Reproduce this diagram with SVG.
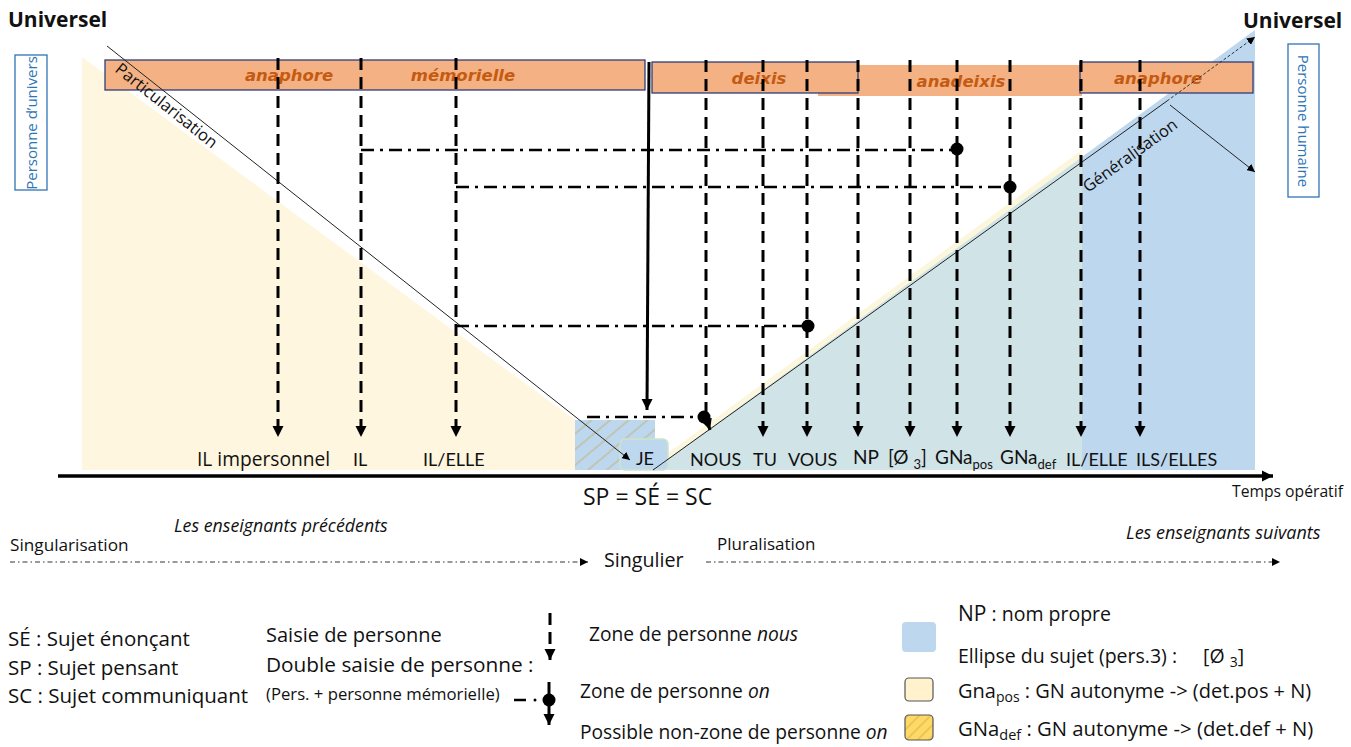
<svg xmlns="http://www.w3.org/2000/svg" width="1351" height="747" viewBox="0 0 1351 747">
<style>
.t{font-family:Lato,"Liberation Sans",sans-serif;fill:#111}
.o{font-family:"Open Sans","Liberation Sans",sans-serif;fill:#111}
.lab{font-size:18px}
.bar{fill:#f4b183;stroke:#2f3d7a;stroke-width:1.3}
.bt{font-family:"DejaVu Sans",Verdana,sans-serif;font-weight:bold;font-style:italic;font-size:16.5px;fill:#c55a11}
.vd{stroke:#000;stroke-width:3;stroke-dasharray:12 7;fill:none}
.dd{stroke:#000;stroke-width:2.5;stroke-dasharray:13 6 3 6;fill:none}
.thin{stroke:#222;stroke-width:1;fill:none}
.dot{fill:#000}
.vbox{fill:#fff;stroke:#2e75b6;stroke-width:1.3}
.vt{font-family:"Open Sans","Liberation Sans",sans-serif;font-size:15px;fill:#2e75b6}
</style>
<defs>
<marker id="ah" viewBox="0 0 10 10" refX="10" refY="5" markerWidth="11" markerHeight="12" markerUnits="userSpaceOnUse" orient="auto"><path d="M0,0 L10,5 L0,10 z" fill="#000"/></marker>
<marker id="ahs" viewBox="0 0 10 10" refX="10" refY="5" markerWidth="8" markerHeight="8" markerUnits="userSpaceOnUse" orient="auto"><path d="M0,0 L10,5 L0,10 z" fill="#000"/></marker>
<pattern id="hatch" width="12" height="12" patternUnits="userSpaceOnUse" patternTransform="rotate(-40)">
<rect width="12" height="12" fill="#bdd7ee"/><line x1="0" y1="6" x2="12" y2="6" stroke="#c2b47a" stroke-width="1"/>
</pattern>
<pattern id="hatchY" width="8" height="8" patternUnits="userSpaceOnUse" patternTransform="rotate(-45)">
<rect width="8" height="8" fill="#ffd966"/><line x1="0" y1="4" x2="8" y2="4" stroke="#c9a640" stroke-width="0.8"/>
</pattern>
</defs>
<rect width="1351" height="747" fill="#fff"/>

<g id="zones">
<polygon points="82,57 575,420 575,470 82,470" fill="#fef6df"/>
<polygon points="645,470 1082,150 1082,470" fill="#fbf6dc"/>
<polygon points="653,470 1082,157 1082,470" fill="#d0e3e6"/>
<polygon points="1082,157 1255,30 1255,470 1082,470" fill="#bdd7ee"/>
<rect x="575" y="420" width="80" height="50" fill="url(#hatch)"/>
</g>

<g id="bar-anaphore-memorielle">
<rect class="bar" x="105" y="60" width="540" height="30"/>
<text class="bt" x="289" y="81" text-anchor="middle">anaphore</text>
<text class="bt" x="463" y="81" text-anchor="middle">mémorielle</text>
</g>
<g id="bar-anadeixis">
<rect x="818" y="65" width="264" height="31" fill="#f4b183"/>
<text class="bt" x="961" y="87" text-anchor="middle">anadeixis</text>
</g>
<g id="bar-deixis">
<rect class="bar" x="652" y="62" width="206" height="31"/>
<text class="bt" x="759" y="84" text-anchor="middle">deixis</text>
</g>
<g id="bar-anaphore-2">
<rect class="bar" x="1080" y="62" width="173" height="31"/>
<text class="bt" x="1158" y="84" text-anchor="middle">anaphore</text>
</g>

<g id="je">
<rect x="620" y="439" width="48" height="31" rx="5" fill="#bdd7ee" stroke="#cfe3c8" stroke-width="1.5"/>
<text class="t lab" x="636" y="465">JE</text>
</g>

<g id="connectors">
<line class="thin" x1="107" y1="46" x2="630" y2="460" marker-end="url(#ahs)"/>
<line class="thin" x1="653" y1="470" x2="1167" y2="101" stroke="#333"/>
<line x1="1167" y1="101" x2="1255" y2="37" stroke="#333" stroke-width="1" stroke-dasharray="3 2" marker-end="url(#ahs)"/>
<line class="thin" x1="1170" y1="105" x2="1255" y2="172" marker-end="url(#ahs)"/>

<line class="vd" x1="278" y1="58" x2="278" y2="437" marker-end="url(#ah)"/>
<line class="vd" x1="361" y1="58" x2="361" y2="437" marker-end="url(#ah)"/>
<line class="vd" x1="456" y1="58" x2="456" y2="437" marker-end="url(#ah)"/>
<line x1="649" y1="62" x2="647" y2="410" stroke="#000" stroke-width="3" marker-end="url(#ah)"/>
<line class="vd" x1="706" y1="60" x2="706" y2="418"/>
<line x1="706" y1="418" x2="710" y2="430" stroke="#000" stroke-width="3" marker-end="url(#ah)"/>
<line class="vd" x1="763" y1="60" x2="763" y2="437" marker-end="url(#ah)"/>
<line class="vd" x1="807" y1="60" x2="807" y2="437" marker-end="url(#ah)"/>
<line class="vd" x1="858" y1="60" x2="858" y2="437" marker-end="url(#ah)"/>
<line class="vd" x1="910" y1="60" x2="910" y2="437" marker-end="url(#ah)"/>
<line class="vd" x1="957" y1="60" x2="957" y2="437" marker-end="url(#ah)"/>
<line class="vd" x1="1010" y1="60" x2="1010" y2="437" marker-end="url(#ah)"/>
<line class="vd" x1="1081" y1="60" x2="1081" y2="437" marker-end="url(#ah)"/>
<line class="vd" x1="1140" y1="60" x2="1140" y2="437" marker-end="url(#ah)"/>

<line class="dd" x1="361" y1="150" x2="957" y2="150"/>
<line class="dd" x1="456" y1="187" x2="1010" y2="187"/>
<line class="dd" x1="456" y1="326" x2="807" y2="326"/>
<line class="dd" x1="587" y1="417" x2="704" y2="417"/>
<circle class="dot" cx="957" cy="149" r="6.5"/>
<circle class="dot" cx="1010" cy="187" r="6.5"/>
<circle class="dot" cx="808" cy="326" r="6.5"/>
<circle class="dot" cx="704" cy="417" r="6.5"/>

<line x1="58" y1="476" x2="1273" y2="476" stroke="#000" stroke-width="3.5" marker-end="url(#ah)"/>
<line x1="10" y1="562" x2="588" y2="562" stroke="#333" stroke-width="1" stroke-dasharray="5 3 1.5 3" marker-end="url(#ahs)"/>
<line x1="706" y1="562" x2="1280" y2="562" stroke="#333" stroke-width="1" stroke-dasharray="5 3 1.5 3" marker-end="url(#ahs)"/>
</g>

<g id="particularisation"><text class="o" font-size="16.5" transform="translate(114,71) rotate(38.5)">Particularisation</text></g>
<g id="generalisation"><text class="o" font-size="16.5" transform="translate(1088,193) rotate(-36)">Généralisation</text></g>

<g id="universel-left"><text class="o" x="8" y="27" font-size="21" font-weight="bold">Universel</text></g>
<g id="universel-right"><text class="o" x="1243" y="28" font-size="21" font-weight="bold">Universel</text></g>
<g id="personne-univers">
<rect class="vbox" x="15" y="55" width="32" height="135"/>
<text class="vt" transform="translate(36.5,123) rotate(-90)" text-anchor="middle">Personne d’univers</text>
</g>
<g id="personne-humaine">
<rect class="vbox" x="1288" y="44" width="31" height="153"/>
<text class="vt" transform="translate(1297.5,121) rotate(90)" text-anchor="middle">Personne humaine</text>
</g>

<g id="labels" class="t lab">
<text class="o" x="197" y="466" font-size="19.2">IL impersonnel</text>
<text x="353" y="466">IL</text>
<text x="423" y="466">IL/ELLE</text>
<text x="690" y="466">NOUS</text>
<text x="753" y="466">TU</text>
<text x="788" y="466">VOUS</text>
<text x="853" y="464" font-size="19">NP</text>
<text x="888" y="464" font-size="19">[Ø <tspan font-size="13" dy="5">3</tspan><tspan dy="-5">]</tspan></text>
<text x="935" y="464" font-size="19">GNa<tspan font-size="13" dy="5">pos</tspan></text>
<text x="1000" y="464" font-size="19">GNa<tspan font-size="13" dy="5">def</tspan></text>
<text x="1066" y="466">IL/ELLE</text>
<text x="1136" y="466">ILS/ELLES</text>
</g>
<g id="temps"><text class="o" x="1232" y="497" font-size="15.7">Temps opératif</text></g>
<g id="sp-se-sc"><text class="o" x="583" y="505" font-size="23">SP = SÉ = SC</text></g>

<g id="timeline-texts" class="o">
<text x="10" y="551" font-size="17.2">Singularisation</text>
<text x="174" y="532" font-size="17.8" font-style="italic">Les enseignants précédents</text>
<text x="604" y="567" font-size="19.7">Singulier</text>
<text x="717" y="550" font-size="17">Pluralisation</text>
<text x="1126" y="539" font-size="18" font-style="italic">Les enseignants suivants</text>
</g>

<g id="legend-sujets" class="o" font-size="20.5">
<text x="8" y="646">SÉ : Sujet énonçant</text>
<text x="8" y="675">SP : Sujet pensant</text>
<text x="8" y="703">SC : Sujet communiquant</text>
</g>
<g id="legend-saisie" class="o">
<text x="266" y="642" font-size="20">Saisie de personne</text>
<text x="266" y="672" font-size="20.8">Double saisie de personne :</text>
<text x="266" y="700" font-size="16.7">(Pers. + personne mémorielle)</text>
</g>
<g id="legend-arrows">
<line class="vd" x1="550" y1="613" x2="550" y2="660" marker-end="url(#ah)"/>
<line x1="514" y1="700" x2="526" y2="700" stroke="#000" stroke-width="2.5"/>
<circle cx="535" cy="700" r="1.5" fill="#000"/>
<line x1="549" y1="682" x2="549" y2="725" stroke="#000" stroke-width="3" marker-end="url(#ah)"/>
<circle class="dot" cx="549" cy="700" r="6.5"/>
</g>
<g id="legend-zones" class="o" font-size="19.2">
<text x="589" y="641">Zone de personne <tspan font-style="italic">nous</tspan></text>
<text x="580" y="698">Zone de personne <tspan font-style="italic">on</tspan></text>
<text x="580" y="739">Possible non-zone de personne <tspan font-style="italic">on</tspan></text>
</g>
<g id="legend-np">
<rect x="902" y="622" width="34" height="30" rx="4" fill="#bdd7ee"/>
<text class="o" x="958" y="621" font-size="19.5"><tspan font-size="21">NP</tspan> : nom propre</text>
<text class="o" x="958" y="663" font-size="19.5">Ellipse du sujet (pers.3) :<tspan x="1203">[Ø </tspan><tspan font-size="14" dy="4">3</tspan><tspan dy="-4">]</tspan></text>
</g>
<g id="legend-gnapos">
<rect x="905" y="678" width="28" height="23" rx="4" fill="#fff2cc" stroke="#555" stroke-width="1.2"/>
<text class="o" x="958" y="698" font-size="20">Gna<tspan font-size="14" dy="4">pos</tspan><tspan dy="-4"> : GN autonyme -&gt; (det.pos + N)</tspan></text>
</g>
<g id="legend-gnadef">
<rect x="905" y="715" width="28" height="25" rx="4" fill="url(#hatchY)" stroke="#555" stroke-width="1.2"/>
<text class="o" x="958" y="736" font-size="20.3">GNa<tspan font-size="14.5" dy="4">def</tspan><tspan dy="-4"> : GN autonyme -&gt; (det.def + N)</tspan></text>
</g>
</svg>
